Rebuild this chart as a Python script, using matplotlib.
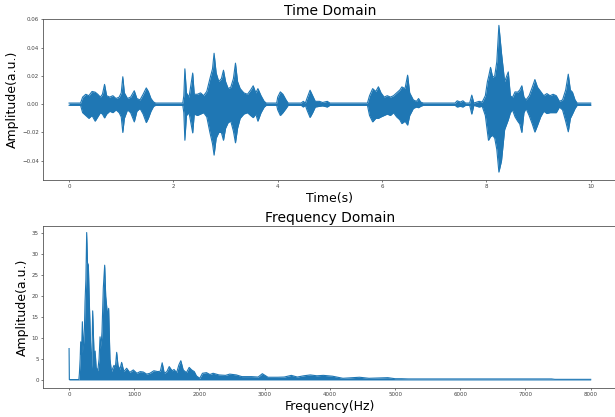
import matplotlib
matplotlib.use('Agg')
import matplotlib.pyplot as plt
import numpy as np

# time domain envelope (seconds, upper, lower)
t_env = [0.00, 0.22, 0.26, 0.32, 0.38, 0.44, 0.50, 0.55, 0.60, 0.64, 0.68, 0.72,
         0.78, 0.84, 0.90, 0.96, 1.00, 1.03, 1.06, 1.12, 1.18, 1.25, 1.30, 1.36,
         1.42, 1.48, 1.52, 1.57, 1.62, 1.66, 2.18, 2.20, 2.22, 2.25, 2.30, 2.37,
         2.40, 2.46, 2.52, 2.58, 2.64, 2.70, 2.75, 2.78, 2.82, 2.87, 2.92, 2.96,
         3.00, 3.05, 3.10, 3.15, 3.19, 3.23, 3.28, 3.35, 3.42, 3.48, 3.53, 3.58,
         3.62, 3.68, 3.74, 3.78, 3.98, 4.00, 4.05, 4.10, 4.16, 4.20, 4.45, 4.49,
         4.53, 4.56, 4.62, 4.67, 4.72, 4.80, 4.86, 4.95, 5.00, 5.72, 5.76, 5.82,
         5.88, 5.93, 5.98, 6.04, 6.10, 6.16, 6.22, 6.28, 6.34, 6.38, 6.44, 6.49,
         6.53, 6.60, 6.66, 6.70, 6.74, 6.79, 7.40, 7.44, 7.50, 7.55, 7.60, 7.68,
         7.72, 7.76, 7.86, 7.92, 7.98, 8.02, 8.04, 8.08, 8.12, 8.16, 8.20, 8.24,
         8.29, 8.35, 8.42, 8.46, 8.50, 8.55, 8.60, 8.64, 8.68, 8.72, 8.76, 8.82,
         8.88, 8.93, 8.98, 9.04, 9.10, 9.16, 9.22, 9.28, 9.34, 9.40, 9.46, 9.52,
         9.57, 9.61, 9.65, 9.70, 9.74, 10.00]
amp_top = [0.0008, 0.0008, 0.005, 0.007, 0.006, 0.009, 0.0085, 0.007, 0.005, 0.007, 0.014, 0.006,
           0.005, 0.006, 0.004, 0.005, 0.008, 0.0194, 0.008, 0.004, 0.005, 0.0095, 0.004, 0.003,
           0.007, 0.0115, 0.009, 0.004, 0.0015, 0.0008, 0.0008, 0.006, 0.025, 0.008, 0.005, 0.022,
           0.007, 0.007, 0.008, 0.006, 0.009, 0.018, 0.025, 0.036, 0.022, 0.016, 0.018, 0.024,
           0.016, 0.011, 0.012, 0.018, 0.029, 0.016, 0.011, 0.008, 0.007, 0.010, 0.013, 0.008,
           0.011, 0.006, 0.002, 0.0008, 0.0008, 0.005, 0.0087, 0.007, 0.003, 0.0008, 0.0008, 0.002,
           0.0008, 0.004, 0.0099, 0.006, 0.002, 0.002, 0.0012, 0.002, 0.0008, 0.0008, 0.006, 0.011,
           0.009, 0.0123, 0.008, 0.005, 0.006, 0.005, 0.006, 0.008, 0.010, 0.0122, 0.011, 0.0205,
           0.008, 0.003, 0.002, 0.004, 0.0015, 0.0008, 0.0008, 0.0024, 0.0015, 0.0024, 0.0008, 0.0008,
           0.0064, 0.0008, 0.002, 0.0015, 0.006, 0.016, 0.019, 0.026, 0.019, 0.020, 0.030, 0.0557,
           0.036, 0.016, 0.0228, 0.006, 0.0047, 0.0087, 0.0085, 0.010, 0.013, 0.005, 0.003, 0.006,
           0.012, 0.0174, 0.012, 0.009, 0.006, 0.0075, 0.006, 0.007, 0.006, 0.002, 0.003, 0.010,
           0.0212, 0.010, 0.0085, 0.003, 0.0008, 0.0008]
amp_bot = [-0.0008, -0.0008, -0.006, -0.008, -0.010, -0.008, -0.012, -0.009, -0.006, -0.007, -0.0097, -0.007,
           -0.005, -0.006, -0.004, -0.006, -0.009, -0.020, -0.010, -0.004, -0.006, -0.0125, -0.005, -0.003,
           -0.007, -0.013, -0.010, -0.005, -0.0015, -0.0008, -0.0008, -0.006, -0.0255, -0.008, -0.006, -0.0203,
           -0.007, -0.008, -0.007, -0.006, -0.009, -0.020, -0.028, -0.036, -0.024, -0.020, -0.020, -0.0255,
           -0.017, -0.013, -0.012, -0.019, -0.0273, -0.017, -0.010, -0.007, -0.006, -0.008, -0.0095, -0.007,
           -0.012, -0.006, -0.002, -0.0008, -0.0008, -0.004, -0.008, -0.006, -0.003, -0.0008, -0.0008, -0.002,
           -0.0008, -0.004, -0.0094, -0.006, -0.002, -0.0015, -0.0012, -0.002, -0.0008, -0.0008, -0.008, -0.0125,
           -0.010, -0.010, -0.009, -0.008, -0.007, -0.008, -0.006, -0.009, -0.011, -0.0137, -0.012, -0.0148,
           -0.008, -0.003, -0.002, -0.0025, -0.0015, -0.0008, -0.0008, -0.002, -0.0015, -0.002, -0.0008, -0.0008,
           -0.007, -0.0008, -0.002, -0.0015, -0.008, -0.020, -0.0255, -0.023, -0.022, -0.024, -0.032, -0.048,
           -0.040, -0.018, -0.011, -0.006, -0.004, -0.009, -0.012, -0.014, -0.020, -0.006, -0.003, -0.008,
           -0.014, -0.0197, -0.015, -0.009, -0.005, -0.0066, -0.006, -0.006, -0.006, -0.002, -0.004, -0.012,
           -0.0195, -0.010, -0.007, -0.003, -0.0008, -0.0008]

# frequency domain envelope (Hz, magnitude)
freq = [0, 4, 150, 158, 170, 178, 190, 204, 215, 235, 245, 258, 270, 282, 296, 308,
        321, 333, 347, 362, 375, 388, 400, 415, 440, 460, 475, 490, 505, 525, 546, 562,
        577, 592, 607, 627, 650, 689, 710, 730, 750, 780, 806, 840, 883, 930, 985, 1040,
        1090, 1138, 1190, 1240, 1300, 1360, 1400, 1428, 1460, 1500, 1536, 1580, 1610, 1650,
        1684, 1714, 1750, 1800, 1842, 1880, 1920, 1954, 2005, 2046, 2107, 2160, 2209, 2300,
        2400, 2464, 2566, 2650, 2800, 2900, 2964, 3050, 3200, 3300, 3408, 3500, 3600, 3700,
        3800, 3900, 4040, 4200, 4454, 4600, 4888, 5000, 5100, 5200, 7400, 7450, 8000]
mag = [7.5, 0.1, 0.1, 1.5, 5, 9.1, 6, 13.9, 7, 12, 18.7, 24, 35.2, 28, 27.4, 20,
       13.1, 6.8, 2.8, 16.5, 10, 4, 6.9, 3, 2.2, 5, 10.3, 8, 11.5, 21.9, 27.4, 20,
       17.5, 15, 17.1, 5, 2, 3.5, 3, 6.6, 3.5, 2.5, 4.2, 2, 2.8, 1.8, 2.4, 1.6,
       2.0, 1.9, 1.4, 1.6, 2.2, 2.0, 2.1, 4.1, 1.6, 2.0, 3.2, 2.2, 2.5, 1.75,
       3.6, 4.6, 2.4, 1.75, 3.0, 2.4, 2.0, 0.95, 0.4, 1.6, 1.75, 1.3, 1.6, 1.2,
       1.1, 1.4, 1.2, 0.8, 0.8, 0.7, 1.5, 0.65, 0.65, 0.7, 1.1, 0.7, 1.0, 1.2,
       1.0, 1.1, 0.9, 0.4, 0.65, 0.4, 0.55, 0.3, 0.3, 0.25, 0.25, 0.15, 0.15]

blue = '#1f77b4'

fig = plt.figure(figsize=(6.15, 4.17), dpi=100)
ax1 = fig.add_axes([0.0699, 0.5683, 0.933, 0.3861])
ax2 = fig.add_axes([0.0699, 0.0703, 0.933, 0.3877])

ax1.fill_between(t_env, amp_bot, amp_top, color=blue, lw=0)
ax1.plot(t_env, amp_top, color=blue, lw=0.8)
ax1.plot(t_env, amp_bot, color=blue, lw=0.8)
ax1.set_xlim(-0.5, 10.5)
ax1.set_ylim(-0.0536, 0.0602)
ax1.set_xticks([0, 2, 4, 6, 8, 10])
ax1.set_yticks(np.arange(-0.04, 0.061, 0.02))
ax1.set_yticklabels(['\u22120.04', '\u22120.02', '0.00', '0.02', '0.04', '0.06'])
ax1.set_title('Time Domain', fontsize=10, pad=3)
ax1.set_xlabel('Time(s)', fontsize=9, labelpad=2)
ax1.set_ylabel('Amplitude(a.u.)', fontsize=9, labelpad=2)

ax2.fill_between(freq, 0, mag, color=blue, lw=0)
ax2.plot(freq, mag, color=blue, lw=0.8)
ax2.set_xlim(-400, 8400)
ax2.set_ylim(-1.84, 36.75)
ax2.set_xticks(range(0, 8001, 1000))
ax2.set_yticks(range(0, 36, 5))
ax2.set_title('Frequency Domain', fontsize=10, pad=3)
ax2.set_xlabel('Frequency(Hz)', fontsize=9, labelpad=2)
ax2.set_ylabel('Amplitude(a.u.)', fontsize=9, labelpad=2)

for ax in (ax1, ax2):
    ax.tick_params(labelsize=4, length=1.5, width=0.5, pad=1.5, colors='#444444')
    for s in ax.spines.values():
        s.set_linewidth(0.6)
        s.set_color('#555555')

fig.savefig('out.png', dpi=100)
